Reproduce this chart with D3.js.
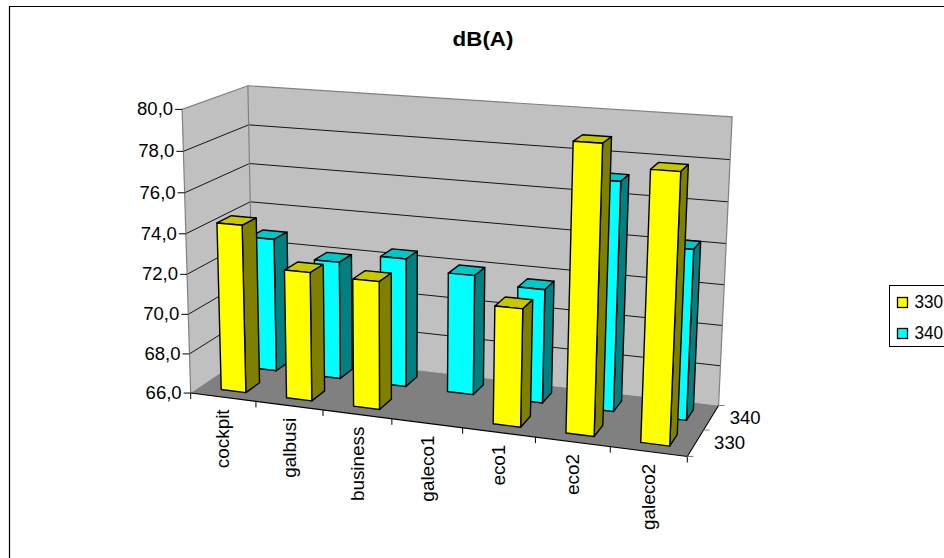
<!DOCTYPE html>
<html>
<head>
<meta charset="utf-8">
<script src="https://cdn.jsdelivr.net/npm/d3@7"></script>
<style>
  html, body { margin: 0; padding: 0; background: #fff; }
  svg { display: block; }
  text { font-family: "Liberation Sans", Arial, sans-serif; fill: #000; }
</style>
</head>
<body>
<svg id="chart" width="944" height="558"></svg>
<script>
const categories = ['cockpit', 'galbusi', 'business', 'galeco1', 'eco1', 'eco2', 'galeco2'];
const seriesNames = ['330', '340'];
const values330 = [74.4, 72.4, 72.3, null, 71.7, 79.6, 78.6];
const values340 = [72.85, 72.0, 72.5, 72.0, 71.65, 77.15, 74.25];
const yTicks = [66, 68, 70, 72, 74, 76, 78, 80];

const colors = {
  '330': {front: '#ffff00', side: '#808000', top: '#c8c800'},
  '340': {front: '#00ffff', side: '#008080', top: '#00c8c8'}
};

const svg = d3.select('#chart');

// box corners on screen, u along categories, v up, w into the page
const frame = [
  [0, 0, 0, 192, 393], [0, 1, 0, 181, 109],
  [0, 0, 1, 252, 351], [0, 1, 1, 249, 86],
  [1, 0, 1, 719, 405], [1, 1, 1, 732, 117],
  [1, 0, 0, 687, 457]
];

function solve(A, b) {
  const n = b.length, M = A.map((r, i) => r.concat(b[i]));
  for (let i = 0; i < n; i++) {
    let p = i;
    for (let r = i + 1; r < n; r++) if (Math.abs(M[r][i]) > Math.abs(M[p][i])) p = r;
    [M[i], M[p]] = [M[p], M[i]];
    for (let r = 0; r < n; r++) {
      if (r === i) continue;
      const f = M[r][i] / M[i][i];
      for (let c = i; c <= n; c++) M[r][c] -= f * M[i][c];
    }
  }
  return M.map((r, i) => r[n] / r[i]);
}

// least squares fit of the perspective matrix to the corners
function fitCamera(points) {
  const rows = [], rhs = [];
  points.forEach(([u, v, w, x, y]) => {
    rows.push([u, v, w, 1, 0, 0, 0, 0, -x * u, -x * v, -x * w]); rhs.push(x);
    rows.push([0, 0, 0, 0, u, v, w, 1, -y * u, -y * v, -y * w]); rhs.push(y);
  });
  const AtA = d3.range(11).map(i => d3.range(11).map(j => d3.sum(rows, r => r[i] * r[j])));
  const Atb = d3.range(11).map(i => d3.sum(rows, (r, k) => r[i] * rhs[k]));
  return solve(AtA, Atb);
}

const cam = fitCamera(frame);
function project(u, v, w) {
  const d = cam[8] * u + cam[9] * v + cam[10] * w + 1;
  return [(cam[0] * u + cam[1] * v + cam[2] * w + cam[3]) / d,
          (cam[4] * u + cam[5] * v + cam[6] * w + cam[7]) / d];
}

const xBand = d3.scaleBand().domain(categories).range([0, 1]).paddingInner(0.62).paddingOuter(0.31).align(0.534);
const zBand = d3.scaleBand().domain(seriesNames).range([0, 1]).paddingInner(0.56).paddingOuter(0.28);
const yScale = d3.scaleLinear().domain([66, 80]).range([0, 1]);

const poly = pts => 'M' + pts.map(p => project(...p).join(',')).join('L') + 'Z';
const seg = (a, b) => 'M' + project(...a).join(',') + 'L' + project(...b).join(',');

// source text runs wider than Arial, so stretch it along the baseline
function label(parent, x, y, str, opts = {}) {
  const rot = opts.rotate ? ' rotate(-90)' : '';
  return parent.append('text')
    .attr('transform', `translate(${x},${y})${rot} scale(${opts.stretch || 1.06},1)`)
    .attr('text-anchor', opts.anchor || 'start')
    .attr('font-size', opts.size || 17.5)
    .text(str);
}

// chart border, only top and left show in the frame
svg.append('path').attr('d', 'M9.5,558V6.5H944').attr('fill', 'none').attr('stroke', '#000').attr('stroke-width', 1.2);

label(svg, 483, 46, 'dB(A)', {anchor: 'middle', size: 20, stretch: 1.12}).attr('font-weight', 'bold');

// walls and floor
const walls = svg.append('g');
walls.append('path').attr('d', poly([[0, 0, 0], [0, 1, 0], [0, 1, 1], [0, 0, 1]])).attr('fill', '#c0c0c0');
walls.append('path').attr('d', poly([[0, 0, 1], [0, 1, 1], [1, 1, 1], [1, 0, 1]])).attr('fill', '#c0c0c0');
walls.append('path').attr('d', poly([[0, 0, 0], [1, 0, 0], [1, 0, 1], [0, 0, 1]])).attr('fill', '#808080');

// gridlines
yTicks.slice(1, -1).forEach(t => {
  const v = yScale(t);
  walls.append('path').attr('d', seg([0, v, 0], [0, v, 1]) + 'L' + project(1, v, 1).join(','))
    .attr('fill', 'none').attr('stroke', '#000').attr('stroke-width', 0.9);
});
walls.append('path')
  .attr('d', seg([0, 1, 0], [0, 1, 1]) + 'L' + project(1, 1, 1).join(',') + 'L' + project(1, 0, 1).join(','))
  .attr('fill', 'none').attr('stroke', '#808080').attr('stroke-width', 1.2);
walls.append('path').attr('d', seg([0, 1, 1], [0, 0, 1])).attr('stroke', '#808080').attr('stroke-width', 1.2);
walls.append('path').attr('d', seg([0, 1, 0], [0, 0, 0])).attr('stroke', '#808080').attr('stroke-width', 1.2);
walls.append('path').attr('d', seg([0, 0, 0], [1, 0, 0]) + 'L' + project(1, 0, 1).join(','))
  .attr('fill', 'none').attr('stroke', '#000').attr('stroke-width', 1.1);

// value axis on the front left edge
const yAxis = svg.append('g');
yTicks.forEach(t => {
  const [x, y] = project(0, yScale(t), 0);
  yAxis.append('path').attr('d', `M${x - 7},${y}H${x}`).attr('stroke', '#000');
  label(yAxis, x - 9, y + 6, d3.format('.1f')(t).replace('.', ','), {anchor: 'end'});
});

// category axis
const xAxis = svg.append('g');
const stepU = 1 / categories.length;
d3.range(categories.length + 1).forEach(i => {
  const [x, y] = project(i * stepU, 0, 0);
  xAxis.append('path').attr('d', `M${x},${y}V${y + 6}`).attr('stroke', '#000');
});
categories.forEach(c => {
  const [x, y] = project(xBand(c) + xBand.bandwidth() / 2, 0, 0);
  label(xAxis, x + 5, y + 12, c, {rotate: true, anchor: 'end', size: 17.5, stretch: 1.08});
});

// series axis on the right edge
const zAxis = svg.append('g');
[0, 0.5, 1].forEach(w => {
  const [x, y] = project(1, 0, w);
  zAxis.append('path').attr('d', `M${x},${y}H${x + 6}`).attr('stroke', '#808080');
});
seriesNames.forEach(s => {
  const [x, y] = project(1, 0, zBand(s) + zBand.bandwidth() / 2);
  label(zAxis, x + 18.5, y + 6, s);
});

// bars, back row first so the front row covers it
const bars = [];
[['340', values340], ['330', values330]].forEach(([s, vals]) => {
  vals.forEach((val, i) => { if (val !== null) bars.push({s, c: categories[i], val}); });
});

const barG = svg.append('g').selectAll('g').data(bars).join('g')
  .attr('stroke', '#000').attr('stroke-width', 1.4).attr('stroke-linejoin', 'round');
barG.append('path').attr('fill', d => colors[d.s].top).attr('d', d => {
  const u0 = xBand(d.c), u1 = u0 + xBand.bandwidth(), w0 = zBand(d.s), w1 = w0 + zBand.bandwidth(), v = yScale(d.val);
  return poly([[u0, v, w0], [u1, v, w0], [u1, v, w1], [u0, v, w1]]);
});
barG.append('path').attr('fill', d => colors[d.s].side).attr('d', d => {
  const u1 = xBand(d.c) + xBand.bandwidth(), w0 = zBand(d.s), w1 = w0 + zBand.bandwidth(), v = yScale(d.val);
  return poly([[u1, 0, w0], [u1, v, w0], [u1, v, w1], [u1, 0, w1]]);
});
barG.append('path').attr('fill', d => colors[d.s].front).attr('d', d => {
  const u0 = xBand(d.c), u1 = u0 + xBand.bandwidth(), w0 = zBand(d.s), v = yScale(d.val);
  return poly([[u0, 0, w0], [u0, v, w0], [u1, v, w0], [u1, 0, w0]]);
});

// legend, runs off the right edge like the source
const legend = svg.append('g');
legend.append('rect').attr('x', 889.5).attr('y', 285.5).attr('width', 70).attr('height', 61)
  .attr('fill', '#fff').attr('stroke', '#000');
seriesNames.forEach((s, i) => {
  legend.append('rect').attr('x', 897.5).attr('y', 297.5 + i * 31).attr('width', 10).attr('height', 10)
    .attr('fill', colors[s].front).attr('stroke', '#000').attr('stroke-width', 1.3);
  label(legend, 914.5, 308 + i * 31, s, {stretch: 0.98});
});
</script>
</body>
</html>
